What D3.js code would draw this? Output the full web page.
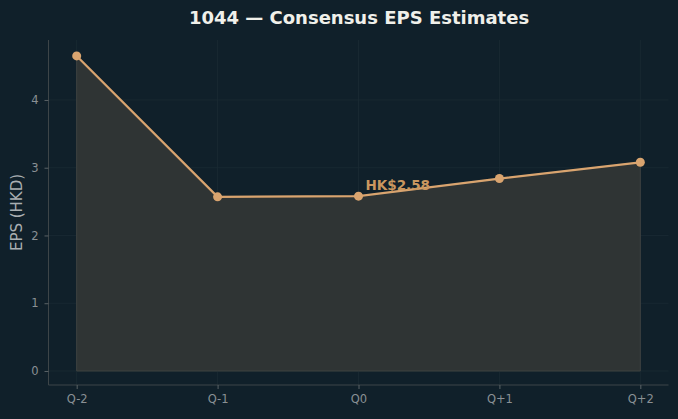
<!DOCTYPE html>
<html>
<head>
<meta charset="utf-8">
<script src="https://cdn.jsdelivr.net/npm/d3@7"></script>
<style>
  body { margin: 0; background: #10202a; }
  svg { display: block; font-family: "DejaVu Sans", sans-serif; }
</style>
</head>
<body>
<svg id="chart" width="678" height="419"></svg>
<script>
// data
var quarters = ["Q-2", "Q-1", "Q0", "Q+1", "Q+2"];
var eps = [4.65, 2.57, 2.58, 2.84, 3.08];
var yTicks = [0, 1, 2, 3, 4];
var current = 2; // index of Q0, annotated

var svg = d3.select("#chart"),
    width = +svg.attr("width"),
    height = +svg.attr("height");

// plot box (window.top is taken, so use other names)
var pLeft = 48.5, pRight = 668.5, pTop = 40, pBottom = 385;

svg.append("rect")
    .attr("width", width)
    .attr("height", height)
    .attr("fill", "#10202a");

let x = d3.scaleLinear().domain([-0.2, 4.2]).range([pLeft, pRight]);
let y = d3.scaleLinear().domain([-0.207, 4.885]).range([pBottom, pTop]);

// grid
svg.append("g")
  .selectAll("line")
  .data(yTicks)
  .enter()
  .append("line")
    .attr("x1", pLeft).attr("x2", pRight)
    .attr("y1", d => y(d)).attr("y2", d => y(d))
    .attr("stroke", "#1a2b33")
    .attr("stroke-width", 0.8)

svg.append("g")
  .selectAll("line")
  .data(quarters)
  .enter()
  .append("line")
    .attr("x1", (d, i) => x(i)).attr("x2", (d, i) => x(i))
    .attr("y1", pTop).attr("y2", pBottom)
    .attr("stroke", "#1a2b33")
    .attr("stroke-width", 0.8)

// area under the line
let area = d3.area()
    .x((d, i) => x(i))
    .y0(y(0))
    .y1(d => y(d))

svg.append("path")
    .datum(eps)
    .attr("d", area)
    .attr("fill", "#2f3434")
    .attr("stroke", "#3e4240")
    .attr("stroke-width", 1)

// axes
let xAxis = d3.axisBottom(x)
    .tickValues(d3.range(quarters.length))
    .tickFormat(i => quarters[i])
    .tickSize(4)
    .tickPadding(6)

let yAxis = d3.axisLeft(y)
    .tickValues(yTicks)
    .tickFormat(d3.format("d"))
    .tickSize(4)
    .tickPadding(6)

let gx = svg.append("g")
    .attr("transform", `translate(0,${pBottom})`)
    .call(xAxis)
gx.select(".domain").attr("d", `M${pLeft},0H${pRight}`)

let gy = svg.append("g")
    .attr("transform", `translate(${pLeft},0)`)
    .call(yAxis)
gy.select(".domain").attr("d", `M0,${pTop}V${pBottom}`)

svg.selectAll(".domain").attr("stroke", "#3d4548")
svg.selectAll(".tick line").attr("stroke", "#5a6266")
svg.selectAll(".tick text")
    .attr("fill", "#8a9094")
    .style("font-size", "11.5px")
    .style("font-family", "DejaVu Sans")

// line + points
let line = d3.line()
    .x((d, i) => x(i))
    .y(d => y(d))

svg.append("path")
    .datum(eps)
    .attr("d", line)
    .attr("fill", "none")
    .attr("stroke", "#d9a46f")
    .attr("stroke-width", 2.2)

svg.append("g")
  .selectAll("circle")
  .data(eps)
  .enter()
  .append("circle")
    .attr("cx", (d, i) => x(i))
    .attr("cy", d => y(d))
    .attr("r", 4.5)
    .attr("fill", "#d9a46f")

// annotation
svg.append("text")
    .attr("x", x(current) + 7)
    .attr("y", y(eps[current]) - 6)
    .attr("fill", "#c9975f")
    .style("font-size", "13.5px")
    .style("font-weight", "bold")
    .text("HK$" + eps[current].toFixed(2))

// labels
svg.append("text")
    .attr("x", width / 2 + 20)
    .attr("y", 24)
    .attr("text-anchor", "middle")
    .attr("fill", "#f0f0ea")
    .style("font-size", "18px")
    .style("font-weight", "bold")
    .text("1044 — Consensus EPS Estimates")

svg.append("text")
    .attr("transform", `translate(22,${(pTop + pBottom) / 2}) rotate(-90)`)
    .attr("text-anchor", "middle")
    .attr("fill", "#a9afb2")
    .style("font-size", "15px")
    .text("EPS (HKD)")
</script>
</body>
</html>
